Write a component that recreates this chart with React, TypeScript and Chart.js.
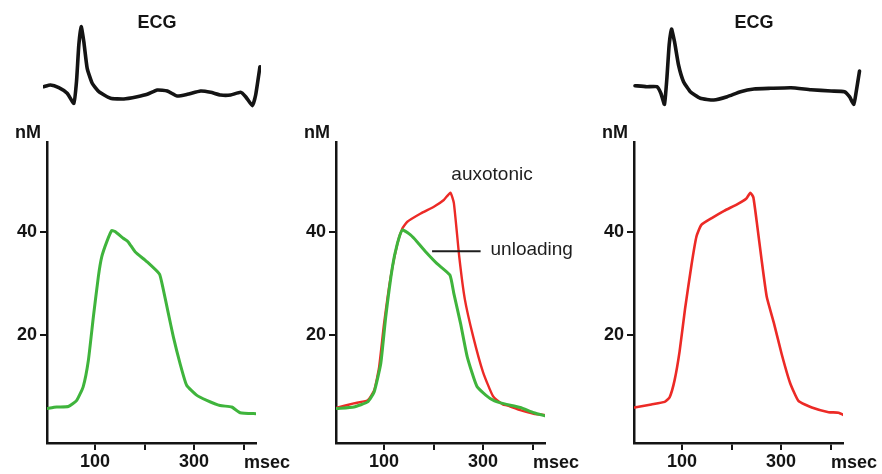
import React, { useEffect, useRef } from 'react';
import { Chart, registerables } from 'chart.js';

Chart.register(...registerables);

const FONT = "'Liberation Sans', Arial, Helvetica, sans-serif";

// ---------- DATA ----------
// Calcium axes
const X_MIN = 3;
const X_MAX = 425;
const Y_MIN = -0.85;
const Y_MAX = 57.3;
const xTickValues = [100, 200, 300, 400];
const xLabelledTicks = [100, 300];
const yTickValues = [20, 40];

// Panel 1: unloading (green)
const p1UnloadTime = [2.4, 22.6, 46, 63, 76, 86.5, 96.6, 106.7, 113.5, 123.6, 133.7, 140.4, 157, 167, 180.8, 204.4, 230, 236.7, 248, 258, 271.7, 285, 305, 325.6, 352.5, 376, 393, 426.7];
const p1UnloadNm = [5.8, 6.1, 6.2, 7.4, 10, 15.1, 23.5, 31.3, 35.1, 38, 40.2, 40, 38.7, 38, 36.1, 34.2, 31.8, 29.3, 24.2, 19.7, 14.5, 10.3, 8.4, 7.4, 6.4, 6.1, 5, 4.8];

// Panel 2: unloading (green) and auxotonic (red)
const p2UnloadTime = [5, 39, 67, 80, 93.4, 103.4, 117, 127, 137, 154, 167, 184, 207, 233, 241, 254.6, 268, 288, 315, 335, 375, 402, 429];
const p2UnloadNm = [5.8, 6.1, 7.1, 9, 14.5, 23.5, 33.2, 37.7, 40.3, 39.3, 38, 36.1, 33.8, 31.6, 28, 22.2, 15.8, 10, 7.7, 6.9, 6, 5, 4.3];
const p2AuxoTime = [5, 39, 67, 80, 90, 100, 113.5, 127, 137, 147, 174, 200.6, 220.7, 234, 241, 252, 263, 280, 300, 320, 340, 348, 375, 402, 429];
const p2AuxoNm = [6.0, 6.8, 7.4, 9.3, 13.8, 22.2, 31.3, 37.7, 40.6, 41.9, 43.5, 44.8, 46.1, 47.5, 45.5, 35, 27, 19.7, 12.8, 8.2, 6.6, 6.4, 5.5, 4.8, 4.5];

// Panel 3: auxotonic (red)
const p3AuxoTime = [4, 38, 65, 75, 85, 95, 106, 119, 129, 139, 160, 185, 212, 230, 238, 244, 252, 260, 271, 285, 301, 318, 335, 362, 396, 416, 433];
const p3AuxoNm = [6, 6.6, 7.1, 8, 11.3, 16.8, 25, 33.5, 39, 41.3, 42.6, 44, 45.3, 46.4, 47.5, 46.6, 41, 35, 27.4, 22.5, 16.4, 10.8, 7.3, 6, 5.1, 5, 4.2];

// ECG traces (time in msec, amplitude in arbitrary units)
const ecg1Time = [-4.4, 9.1, 25.9, 42.8, 56.2, 61.6, 66.3, 71.1, 76.4, 83.2, 93.3, 106.7, 130.3, 157.2, 184.2, 204.4, 224.6, 244.8, 265, 285.3, 312.1, 332.3, 352.5, 372.7, 392.9, 403, 416.6, 423.2, 431.9];
const ecg1Amp = [0.33, 0.5, 0.23, -0.33, -1.33, 0.83, 4.5, 6.33, 4.83, 2.17, 0.67, -0.17, -0.83, -0.9, -0.67, -0.43, 0, -0.1, -0.6, -0.43, -0.1, -0.23, -0.5, -0.5, -0.23, -0.67, -1.57, -0.5, 2.33];
const ecg3Time = [4.1, 27.8, 48.1, 56.2, 63.5, 68.4, 73, 77.7, 83.8, 91.9, 102, 115.6, 135.9, 162.9, 190, 217, 244, 277.9, 318.5, 359, 399.6, 426.6, 436.7, 445.6, 450.3, 457];
const ecg3Amp = [0.43, 0.33, 0.33, -0.33, -1.43, 1.17, 4.5, 6.1, 4.83, 2.5, 0.83, -0.17, -0.83, -1, -0.67, -0.17, 0.1, 0.17, 0.23, 0.03, -0.1, -0.17, -0.67, -1.43, -0.17, 1.9];

// Annotation anchors for panel 2 (data coordinates)
const AUXO_LABEL = { t: 318, v: 50 };
const UNLOAD_LABEL = { t: 315, v: 35.5 };
const UNLOAD_LEADER = { t0: 197, t1: 295, v: 36.2 };

// ---------- STYLE / LAYOUT ----------
const GREEN = '#3fb43c';
const RED = '#ec2a26';
const BLACK = '#141414';
const K = 209 / (X_MAX - X_MIN); // px per msec
const PANEL_AXIS_LEFT = [47, 336, 634];
const Y_SCALE_W = 44;
const CAL_TOP = 100;
const CAL_PAD_TOP = 42;
const X_SCALE_H = 31;
const CAL_PAD_RIGHT = 42;

const xy = (t: number[], v: number[]) => t.map((tt, i) => ({ x: tt, y: v[i] }));

const unitsPlugin = {
  id: 'units',
  afterDraw(chart: any) {
    const { ctx, chartArea } = chart;
    ctx.save();
    ctx.fillStyle = BLACK;
    ctx.font = `bold 18px ${FONT}`;
    ctx.textAlign = 'center';
    ctx.textBaseline = 'alphabetic';
    ctx.fillText('nM', chartArea.left - 19, chartArea.top - 4);
    ctx.fillText('msec', chartArea.right + 11, chartArea.bottom + 25);
    ctx.restore();
  },
};

const annotationPlugin = {
  id: 'annot',
  afterDatasetsDraw(chart: any) {
    const { ctx } = chart;
    const x = chart.scales.x;
    const y = chart.scales.y;
    ctx.save();
    ctx.fillStyle = '#1e1e1e';
    ctx.font = `19px ${FONT}`;
    ctx.textBaseline = 'alphabetic';
    ctx.textAlign = 'center';
    ctx.fillText('auxotonic', x.getPixelForValue(AUXO_LABEL.t), y.getPixelForValue(AUXO_LABEL.v));
    ctx.textAlign = 'left';
    ctx.fillText('unloading', x.getPixelForValue(UNLOAD_LABEL.t), y.getPixelForValue(UNLOAD_LABEL.v));
    ctx.strokeStyle = '#1e1e1e';
    ctx.lineWidth = 2;
    ctx.beginPath();
    const ly = y.getPixelForValue(UNLOAD_LEADER.v);
    ctx.moveTo(x.getPixelForValue(UNLOAD_LEADER.t0), ly);
    ctx.lineTo(x.getPixelForValue(UNLOAD_LEADER.t1), ly);
    ctx.stroke();
    ctx.restore();
  },
};

function lineDs(data: any[], color: string, width: number) {
  return {
    data,
    borderColor: color,
    backgroundColor: color,
    borderWidth: width,
    pointRadius: 0,
    tension: 0.15,
    fill: false,
    borderJoinStyle: 'round',
    borderCapStyle: 'round',
  };
}

function calciumConfig(datasets: any[], extra: any[]) {
  const tickFont = { family: FONT, size: 18, weight: 'bold' as const };
  return {
    type: 'line' as const,
    data: { datasets },
    options: {
      animation: false,
      responsive: false,
      maintainAspectRatio: false,
      events: [],
      layout: { padding: { top: CAL_PAD_TOP, right: CAL_PAD_RIGHT, left: 0, bottom: 0 } },
      plugins: { legend: { display: false }, tooltip: { enabled: false }, title: { display: false } },
      scales: {
        x: {
          type: 'linear',
          min: X_MIN,
          max: X_MAX,
          afterFit: (s: any) => { s.height = X_SCALE_H; },
          afterBuildTicks: (s: any) => { s.ticks = xTickValues.map((v) => ({ value: v })); },
          ticks: {
            autoSkip: false,
            maxRotation: 0,
            padding: 1,
            color: BLACK,
            font: tickFont,
            callback: (v: any) => (xLabelledTicks.includes(v) ? String(v) : ''),
          },
          grid: { drawOnChartArea: false, drawTicks: true, tickLength: 7, color: BLACK, lineWidth: 2 },
          border: { display: true, color: BLACK, width: 2.5 },
        },
        y: {
          type: 'linear',
          min: Y_MIN,
          max: Y_MAX,
          afterFit: (s: any) => { s.width = Y_SCALE_W; },
          afterBuildTicks: (s: any) => { s.ticks = yTickValues.map((v) => ({ value: v })); },
          ticks: { padding: 3, color: BLACK, font: tickFont, callback: (v: any) => String(v) },
          grid: { drawOnChartArea: false, drawTicks: true, tickLength: 7, color: BLACK, lineWidth: 2 },
          border: { display: true, color: BLACK, width: 2.5 },
        },
      },
    },
    plugins: [unitsPlugin, ...extra],
  };
}

const ECG_MIN = -2;
const ECG_MAX = 7;
const ECG_PX = 10; // px per amplitude unit
const ECG_BASE_Y = 90;

function ecgConfig(t: number[], a: number[], xmin: number, xmax: number) {
  return {
    type: 'line' as const,
    data: { datasets: [lineDs(xy(t, a), BLACK, 3.6)] },
    options: {
      animation: false,
      responsive: false,
      maintainAspectRatio: false,
      events: [],
      layout: { padding: 10 },
      plugins: { legend: { display: false }, tooltip: { enabled: false } },
      scales: {
        x: { type: 'linear', min: xmin, max: xmax, display: false },
        y: { type: 'linear', min: ECG_MIN, max: ECG_MAX, display: false },
      },
    },
  };
}

function ecgRect(axisLeft: number, xmin: number, xmax: number) {
  const left = axisLeft + (xmin - X_MIN) * K - 10;
  const width = (xmax - xmin) * K + 20;
  const top = ECG_BASE_Y - ECG_MAX * ECG_PX - 10;
  const height = (ECG_MAX - ECG_MIN) * ECG_PX + 20;
  return { left, top, width, height };
}

function calRect(axisLeft: number) {
  const left = axisLeft - Y_SCALE_W;
  const width = Y_SCALE_W + 209 + CAL_PAD_RIGHT;
  return { left, top: CAL_TOP, width, height: 474 - CAL_TOP };
}

const ECG1_RANGE: [number, number] = [-6, 434];
const ECG3_RANGE: [number, number] = [-6, 462];

export default function App() {
  const refs = [useRef<HTMLCanvasElement>(null), useRef<HTMLCanvasElement>(null), useRef<HTMLCanvasElement>(null), useRef<HTMLCanvasElement>(null), useRef<HTMLCanvasElement>(null)];

  useEffect(() => {
    const charts: Chart[] = [];
    const c = (i: number, cfg: any) => {
      const el = refs[i].current;
      if (el) charts.push(new Chart(el, cfg));
    };
    c(0, ecgConfig(ecg1Time, ecg1Amp, ECG1_RANGE[0], ECG1_RANGE[1]));
    c(1, ecgConfig(ecg3Time, ecg3Amp, ECG3_RANGE[0], ECG3_RANGE[1]));
    c(2, calciumConfig([lineDs(xy(p1UnloadTime, p1UnloadNm), GREEN, 3)], []));
    c(3, calciumConfig([
      lineDs(xy(p2UnloadTime, p2UnloadNm), GREEN, 3),
      lineDs(xy(p2AuxoTime, p2AuxoNm), RED, 2.4),
    ], [annotationPlugin]));
    c(4, calciumConfig([lineDs(xy(p3AuxoTime, p3AuxoNm), RED, 2.6)], []));
    return () => charts.forEach((ch) => ch.destroy());
  }, []);

  const rects = [
    ecgRect(PANEL_AXIS_LEFT[0], ECG1_RANGE[0], ECG1_RANGE[1]),
    ecgRect(PANEL_AXIS_LEFT[2], ECG3_RANGE[0], ECG3_RANGE[1]),
    calRect(PANEL_AXIS_LEFT[0]),
    calRect(PANEL_AXIS_LEFT[1]),
    calRect(PANEL_AXIS_LEFT[2]),
  ];

  const titleStyle = (cx: number): React.CSSProperties => ({
    position: 'absolute',
    left: cx - 50,
    width: 100,
    top: 12,
    textAlign: 'center',
    font: `bold 18px ${FONT}`,
    lineHeight: '20px',
    color: BLACK,
  });

  return (
    <div style={{ position: 'fixed', left: 0, top: 0, width: 882, height: 474, overflow: 'hidden', background: '#fff' }}>
      {rects.map((r, i) => (
        <canvas
          key={i}
          ref={refs[i]}
          width={Math.round(r.width)}
          height={Math.round(r.height)}
          style={{ position: 'absolute', left: r.left, top: r.top, width: Math.round(r.width), height: Math.round(r.height) }}
        />
      ))}
      <div style={titleStyle(157)}>ECG</div>
      <div style={titleStyle(754)}>ECG</div>
    </div>
  );
}
